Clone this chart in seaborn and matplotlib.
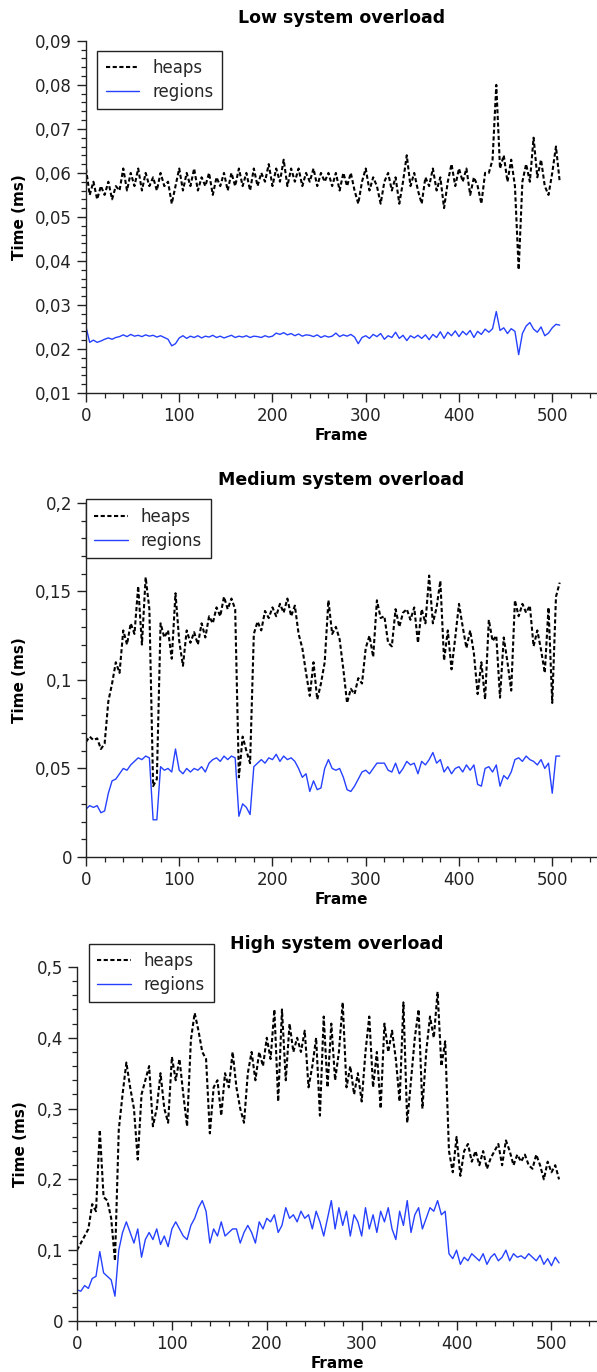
import numpy as np
import pandas as pd
import seaborn as sns
import matplotlib
matplotlib.use("Agg")
import matplotlib.pyplot as plt
from matplotlib.ticker import MultipleLocator, FuncFormatter

# frames sampled every 4th frame
frames = list(range(0, 512, 4))

low_heaps = [
    0.061, 0.055, 0.058, 0.054, 0.057, 0.055, 0.058, 0.054, 0.057, 0.056,
    0.061, 0.056, 0.060, 0.057, 0.061, 0.056, 0.060, 0.057, 0.059, 0.056,
    0.060, 0.057, 0.058, 0.053, 0.057, 0.061, 0.056, 0.060, 0.057, 0.061,
    0.056, 0.059, 0.057, 0.060, 0.055, 0.059, 0.057, 0.060, 0.056, 0.060,
    0.057, 0.061, 0.057, 0.060, 0.056, 0.061, 0.057, 0.060, 0.058, 0.062,
    0.057, 0.061, 0.058, 0.063, 0.057, 0.061, 0.058, 0.061, 0.057, 0.060,
    0.058, 0.061, 0.057, 0.060, 0.058, 0.060, 0.057, 0.060, 0.056, 0.060,
    0.057, 0.060, 0.056, 0.053, 0.058, 0.061, 0.056, 0.059, 0.057, 0.053,
    0.058, 0.060, 0.056, 0.059, 0.053, 0.058, 0.064, 0.057, 0.060, 0.056,
    0.053, 0.059, 0.057, 0.061, 0.056, 0.059, 0.052, 0.058, 0.062, 0.057,
    0.061, 0.058, 0.061, 0.055, 0.059, 0.057, 0.053, 0.060, 0.060, 0.063,
    0.080, 0.061, 0.064, 0.058, 0.063, 0.057, 0.038, 0.058, 0.062, 0.058,
    0.068, 0.059, 0.063, 0.057, 0.055, 0.060, 0.066, 0.058,
]
low_regions = [
    0.0250, 0.0215, 0.0220, 0.0215, 0.0218, 0.0222, 0.0225, 0.0222, 0.0226, 0.0228,
    0.0232, 0.0228, 0.0233, 0.0229, 0.0231, 0.0228, 0.0232, 0.0229, 0.0231, 0.0227,
    0.0230, 0.0226, 0.0222, 0.0207, 0.0212, 0.0225, 0.0230, 0.0224, 0.0229, 0.0226,
    0.0230, 0.0225, 0.0229, 0.0227, 0.0231, 0.0226, 0.0229, 0.0225, 0.0228, 0.0231,
    0.0226, 0.0229, 0.0227, 0.0230, 0.0226, 0.0229, 0.0228, 0.0226, 0.0230, 0.0227,
    0.0229, 0.0236, 0.0233, 0.0237, 0.0232, 0.0235, 0.0230, 0.0234, 0.0229, 0.0232,
    0.0231, 0.0228, 0.0232, 0.0226, 0.0230, 0.0227, 0.0229, 0.0236, 0.0228, 0.0232,
    0.0229, 0.0233, 0.0227, 0.0212, 0.0226, 0.0230, 0.0224, 0.0233, 0.0228, 0.0235,
    0.0222, 0.0230, 0.0226, 0.0238, 0.0224, 0.0231, 0.0219, 0.0230, 0.0225, 0.0231,
    0.0224, 0.0232, 0.0221, 0.0233, 0.0226, 0.0239, 0.0224, 0.0238, 0.0230, 0.0241,
    0.0228, 0.0240, 0.0232, 0.0242, 0.0226, 0.0240, 0.0233, 0.0245, 0.0238, 0.0246,
    0.0285, 0.0242, 0.0248, 0.0235, 0.0246, 0.0240, 0.0187, 0.0235, 0.0252, 0.0260,
    0.0245, 0.0238, 0.0250, 0.0230, 0.0236, 0.0248, 0.0256, 0.0254,
]

med_heaps = [
    0.065, 0.068, 0.066, 0.067, 0.061, 0.064, 0.088, 0.098, 0.110, 0.104,
    0.128, 0.120, 0.132, 0.126, 0.153, 0.120, 0.158, 0.140, 0.040, 0.044,
    0.132, 0.124, 0.128, 0.112, 0.149, 0.122, 0.108, 0.128, 0.121, 0.127,
    0.120, 0.132, 0.124, 0.136, 0.132, 0.141, 0.136, 0.147, 0.140, 0.146,
    0.140, 0.045, 0.068, 0.060, 0.053, 0.126, 0.133, 0.128, 0.139, 0.135,
    0.141, 0.136, 0.143, 0.138, 0.146, 0.136, 0.142, 0.126, 0.118, 0.104,
    0.091, 0.110, 0.089, 0.098, 0.110, 0.145, 0.126, 0.130, 0.123, 0.106,
    0.087, 0.095, 0.092, 0.101, 0.098, 0.118, 0.125, 0.113, 0.145, 0.135,
    0.136, 0.121, 0.119, 0.140, 0.130, 0.138, 0.140, 0.134, 0.141, 0.121,
    0.140, 0.132, 0.159, 0.132, 0.141, 0.156, 0.111, 0.128, 0.106, 0.124,
    0.143, 0.130, 0.118, 0.128, 0.115, 0.092, 0.110, 0.089, 0.134, 0.122,
    0.125, 0.090, 0.124, 0.110, 0.094, 0.145, 0.136, 0.143, 0.138, 0.142,
    0.119, 0.128, 0.117, 0.104, 0.141, 0.087, 0.147, 0.155,
]
med_regions = [
    0.027, 0.029, 0.028, 0.029, 0.025, 0.026, 0.036, 0.043, 0.044, 0.047,
    0.050, 0.049, 0.052, 0.054, 0.056, 0.055, 0.057, 0.056, 0.021, 0.021,
    0.051, 0.049, 0.050, 0.048, 0.061, 0.049, 0.047, 0.050, 0.048, 0.050,
    0.049, 0.051, 0.048, 0.053, 0.055, 0.056, 0.054, 0.057, 0.055, 0.057,
    0.056, 0.023, 0.030, 0.028, 0.024, 0.051, 0.053, 0.055, 0.053, 0.056,
    0.055, 0.058, 0.054, 0.057, 0.055, 0.056, 0.054, 0.050, 0.045, 0.047,
    0.037, 0.043, 0.038, 0.039, 0.050, 0.055, 0.050, 0.049, 0.050, 0.045,
    0.038, 0.037, 0.040, 0.044, 0.048, 0.049, 0.047, 0.050, 0.053, 0.053,
    0.053, 0.049, 0.048, 0.053, 0.047, 0.050, 0.054, 0.052, 0.053, 0.047,
    0.054, 0.052, 0.055, 0.059, 0.053, 0.055, 0.048, 0.051, 0.047, 0.050,
    0.051, 0.048, 0.052, 0.049, 0.052, 0.041, 0.040, 0.050, 0.051, 0.048,
    0.052, 0.040, 0.046, 0.044, 0.048, 0.055, 0.056, 0.054, 0.057, 0.055,
    0.054, 0.052, 0.055, 0.050, 0.053, 0.036, 0.057, 0.057,
]

high_heaps = [
    0.100, 0.110, 0.120, 0.130, 0.165, 0.155, 0.270, 0.175, 0.170, 0.145,
    0.085, 0.270, 0.320, 0.365, 0.330, 0.300, 0.228, 0.320, 0.340, 0.360,
    0.275, 0.300, 0.350, 0.300, 0.280, 0.373, 0.340, 0.370, 0.320, 0.275,
    0.397, 0.435, 0.410, 0.380, 0.370, 0.265, 0.330, 0.340, 0.290, 0.350,
    0.330, 0.380, 0.330, 0.300, 0.280, 0.350, 0.380, 0.340, 0.380, 0.360,
    0.400, 0.370, 0.440, 0.310, 0.440, 0.340, 0.420, 0.380, 0.400, 0.380,
    0.410, 0.330, 0.360, 0.400, 0.290, 0.430, 0.330, 0.420, 0.340, 0.380,
    0.450, 0.330, 0.360, 0.320, 0.350, 0.310, 0.380, 0.430, 0.330, 0.380,
    0.300, 0.420, 0.380, 0.410, 0.370, 0.310, 0.450, 0.280, 0.340, 0.400,
    0.440, 0.300, 0.380, 0.430, 0.400, 0.465, 0.360, 0.395, 0.240, 0.210,
    0.260, 0.205, 0.240, 0.250, 0.225, 0.240, 0.220, 0.240, 0.215, 0.230,
    0.240, 0.250, 0.220, 0.255, 0.240, 0.220, 0.235, 0.225, 0.235, 0.220,
    0.215, 0.235, 0.220, 0.200, 0.225, 0.210, 0.220, 0.200,
]
high_regions = [
    0.044, 0.042, 0.050, 0.046, 0.060, 0.063, 0.098, 0.068, 0.063, 0.058,
    0.035, 0.100, 0.125, 0.140, 0.125, 0.110, 0.130, 0.090, 0.115, 0.125,
    0.115, 0.130, 0.108, 0.120, 0.105, 0.130, 0.140, 0.130, 0.120, 0.115,
    0.135, 0.145, 0.160, 0.170, 0.155, 0.110, 0.130, 0.120, 0.140, 0.120,
    0.125, 0.130, 0.130, 0.110, 0.125, 0.135, 0.125, 0.110, 0.140, 0.130,
    0.145, 0.140, 0.150, 0.125, 0.135, 0.160, 0.145, 0.150, 0.140, 0.155,
    0.145, 0.150, 0.130, 0.155, 0.140, 0.120, 0.145, 0.170, 0.130, 0.160,
    0.135, 0.155, 0.120, 0.150, 0.140, 0.120, 0.160, 0.130, 0.150, 0.125,
    0.155, 0.140, 0.160, 0.130, 0.115, 0.155, 0.135, 0.170, 0.125, 0.150,
    0.160, 0.130, 0.145, 0.160, 0.155, 0.170, 0.150, 0.155, 0.095, 0.088,
    0.100, 0.080, 0.090, 0.085, 0.095, 0.090, 0.085, 0.095, 0.080, 0.090,
    0.095, 0.085, 0.090, 0.100, 0.085, 0.095, 0.090, 0.092, 0.088, 0.095,
    0.090, 0.085, 0.093, 0.080, 0.088, 0.078, 0.090, 0.082,
]

titles = ["Low system overload", "Medium system overload", "High system overload"]

sns.set_style("ticks")
plt.rcParams['font.family'] = ['DejaVu Sans']

fig = plt.figure(figsize=(5.97, 13.72), dpi=100)

# [left, bottom, width, height], y-limits, major/minor y step, legend anchor (figure coords)
panels = [
    ([0.144, 0.7136, 0.856, 0.2566], (0.01, 0.09), 0.01, 0.002, (0.163, 0.963)),
    ([0.144, 0.3754, 0.856, 0.2580], (0.0, 0.20), 0.05, 0.01, (0.144, 0.636)),
    ([0.129, 0.0372, 0.871, 0.2580], (0.0, 0.50), 0.10, 0.02, (0.149, 0.312)),
]
series = [
    (low_heaps, low_regions),
    (med_heaps, med_regions),
    (high_heaps, high_regions),
]

comma_fmt = FuncFormatter(lambda v, p: f"{v:g}".replace('.', ','))

for (rect, ylim, major, minor, leg_pos), (heaps, regions), title in zip(panels, series, titles):
    ax_ = fig.add_axes(rect)
    df = pd.DataFrame({'Frame': frames, 'heaps': heaps, 'regions': regions})

    sns.lineplot(data=df, x='Frame', y='heaps', ax=ax_, color='black',
                 linestyle=(0, (2.0, 1.2)), linewidth=1.5, label='heaps')
    sns.lineplot(data=df, x='Frame', y='regions', ax=ax_, color='#2541ff',
                 linewidth=1.0, label='regions')

    ax_.set_xlim(0, 548)
    ax_.set_ylim(*ylim)
    ax_.xaxis.set_major_locator(MultipleLocator(100))
    ax_.xaxis.set_minor_locator(MultipleLocator(20))
    ax_.yaxis.set_major_locator(MultipleLocator(major))
    ax_.yaxis.set_minor_locator(MultipleLocator(minor))
    ax_.yaxis.set_major_formatter(comma_fmt)

    for side in ('top', 'right'):
        ax_.spines[side].set_visible(False)
    for side in ('left', 'bottom'):
        ax_.spines[side].set_color('#222222')
        ax_.spines[side].set_linewidth(1.0)
    ax_.tick_params(which='major', direction='out', length=6.5, width=1.0,
                    color='#222222', labelsize=12, labelcolor='#222222')
    ax_.tick_params(which='minor', direction='out', length=3.5, width=0.9,
                    color='#222222')

    ax_.set_title(title, fontsize=12.5, fontweight='bold', pad=13, color='black')
    ax_.set_xlabel('Frame', fontsize=11, fontweight='bold', labelpad=2, color='black')
    ax_.set_ylabel('Time (ms)', fontsize=11, fontweight='bold', labelpad=6, color='black')

    leg = ax_.legend(loc='upper left', bbox_to_anchor=leg_pos,
                     bbox_transform=fig.transFigure, fontsize=12,
                     frameon=True, fancybox=False, framealpha=1,
                     borderpad=0.5, labelspacing=0.35, handlelength=2.0,
                     handletextpad=0.8, borderaxespad=0)
    leg.get_frame().set_edgecolor('#222222')
    leg.get_frame().set_linewidth(1.0)

plt.savefig('out.png', dpi=100)
